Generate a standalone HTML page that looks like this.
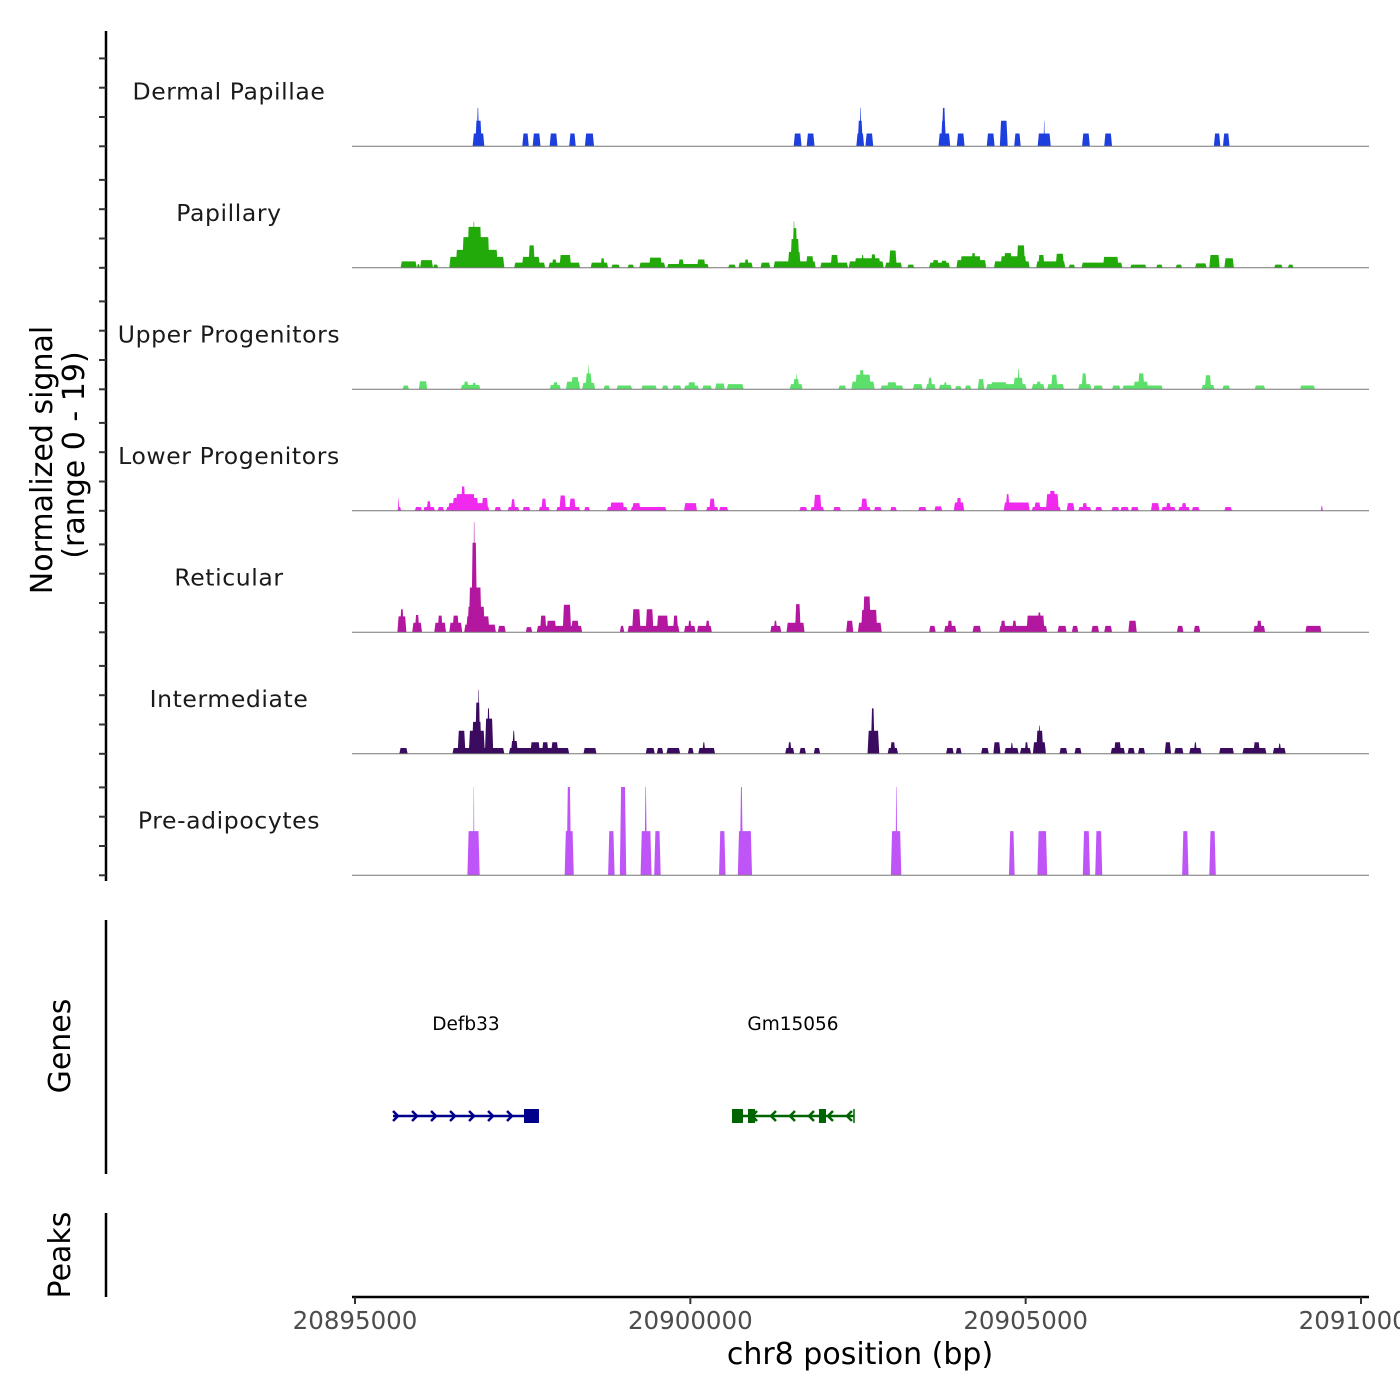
<!DOCTYPE html>
<html><head><meta charset="utf-8">
<style>
html,body{margin:0;padding:0;background:#fff;}
svg{display:block;font-family:"DejaVu Sans","Liberation Sans",sans-serif;}
</style></head>
<body>
<svg id="chart" width="1400" height="1400" viewBox="0 0 1400 1400" xmlns="http://www.w3.org/2000/svg">
<rect x="0" y="0" width="1400" height="1400" fill="#fff"/>
<g id="tracks"></g>
<g id="yaxis"></g>
<g id="genes"></g>
<g id="xaxis"></g>
<text x="0" y="0" transform="translate(52,460) rotate(-90)" text-anchor="middle" font-size="30" fill="#000">Normalized signal</text>
<text x="0" y="0" transform="translate(84,455) rotate(-90)" text-anchor="middle" font-size="30" fill="#000">(range 0 - 19)</text>
<text x="0" y="0" transform="translate(70,1046) rotate(-90)" text-anchor="middle" font-size="30" fill="#000">Genes</text>
<text x="0" y="0" transform="translate(70,1255) rotate(-90)" text-anchor="middle" font-size="30" fill="#000">Peaks</text>
<text x="860" y="1364" text-anchor="middle" font-size="30" fill="#000">chr8 position (bp)</text>
</svg>
<script>
const regionStart = 20895000;
const trackNames = ["Dermal Papillae","Papillary","Upper Progenitors","Lower Progenitors","Reticular","Intermediate","Pre-adipocytes"];
const xTickValues = [20895000, 20900000, 20905000, 20910000];
const xTickLabels = ["20895000", "20900000", "20905000", "20910000"];
// segments: [startOffsetBp, endOffsetBp, signal] relative to regionStart
const dermalPapillae = [[1754,1929,2],[1793,1890,4],[1813,1852,6],[2494,2591,2],[2649,2766,2],[2902,3019,2],[3194,3291,2],[3428,3564,2],[6541,6658,2],[6735,6852,2],[7475,7591,2],[7494,7572,4],[7523,7552,6],[7611,7727,2],[8700,8875,2],[8737,8813,4],[8749,8807,6],[8973,9089,2],[9420,9537,2],[9615,9732,4],[9829,9926,2],[10179,10374,2],[10267,10286,4],[10841,10957,2],[11171,11288,2],[12806,12903,2],[12942,13039,2]];
const papillary = [[680,921,1],[921,970,0.6],[970,1163,1.2],[1163,1241,0.5],[1406,2227,1.7],[1501,2130,2.8],[1599,2005,4.8],[1676,1888,6.4],[1754,1791,7.2],[2373,2836,0.8],[2488,2758,1.7],[2585,2682,3.5],[2885,3357,0.8],[2933,3011,1.3],[3048,3223,2],[3513,3774,0.8],[3659,3725,1.5],[3822,3949,0.5],[4064,4161,0.5],[4239,4626,0.8],[4383,4577,1.6],[4653,5274,0.6],[4819,4906,1.3],[5099,5225,1.3],[5564,5679,0.5],[5718,5930,0.8],[5805,5873,1.3],[6047,6192,0.8],[6241,6870,1],[6453,6646,2.5],[6492,6626,4.5],[6521,6597,6.2],[6531,6560,7.3],[6724,6840,1.8],[6936,7352,0.8],[7091,7208,2],[7362,7883,1],[7449,7836,1.5],[7545,7593,2],[7691,7768,2.1],[7903,8156,0.8],[7961,8078,2.7],[8234,8339,0.5],[8560,8870,0.8],[8609,8706,1.2],[8735,8831,1.1],[8967,9412,1.2],[9025,9335,1.8],[9189,9257,2.3],[9527,10060,1],[9624,10012,1.8],[9673,9798,2.3],[9866,9992,3.5],[10156,10591,1],[10185,10282,2],[10446,10572,2.2],[10640,10737,0.5],[10833,11442,0.8],[11152,11386,1.7],[11559,11800,0.5],[11946,12043,0.5],[12236,12333,0.5],[12526,12699,0.7],[12738,12893,2],[12962,13105,1.5],[13705,13831,0.5],[13909,13995,0.5]];
const upperProgenitors = [[709,805,0.6],[951,1077,1.25],[1579,1869,0.7],[1618,1696,1.2],[1743,1811,1],[2904,3068,0.7],[2953,3029,1.1],[3145,3357,1.2],[3223,3340,1.9],[3387,3581,1],[3435,3533,2.5],[3465,3494,3.7],[3706,3803,0.6],[3900,4132,0.6],[4268,4500,0.6],[4577,4673,0.6],[4731,4867,0.6],[4906,5128,0.6],[4963,5079,1.1],[5177,5321,0.6],[5369,5515,0.9],[5544,5795,0.8],[6482,6675,0.8],[6531,6626,1.6],[6570,6597,2.4],[7208,7323,0.6],[7401,7749,1.2],[7459,7691,2.3],[7517,7593,3],[7836,8175,0.6],[7932,8078,1.1],[8319,8465,0.8],[8512,8658,0.8],[8541,8609,1.8],[8706,8899,0.7],[8774,8831,1.1],[8947,9045,0.5],[9093,9189,0.6],[9286,9383,1.6],[9412,10012,0.8],[9479,9722,1.1],[9817,9963,1.8],[9876,9915,3.2],[10090,10282,0.8],[10156,10234,1.2],[10321,10572,0.8],[10379,10475,2.3],[10784,10979,0.8],[10833,10911,2.5],[11008,11152,0.6],[11288,11413,0.6],[11442,12043,0.6],[11607,11829,1.2],[11675,11771,2.5],[12623,12816,0.7],[12670,12767,2.2],[12933,13047,0.6],[13415,13571,0.6],[14092,14314,0.6]];
const lowerProgenitors = [[632,690,0.6],[641,661,2],[892,999,0.6],[1019,1192,0.6],[1067,1134,1.5],[1231,1328,0.6],[1357,2005,0.6],[1387,1937,1.2],[1453,1840,2],[1501,1791,2.6],[1579,1647,3.8],[1888,1986,2],[2081,2178,0.6],[2276,2449,0.6],[2324,2390,1.8],[2498,2614,0.6],[2739,2904,0.6],[2778,2855,1.9],[3001,3357,0.6],[3048,3145,2.4],[3194,3291,1.9],[3416,3503,0.6],[3754,4064,0.6],[3803,4015,1.3],[4112,4644,0.6],[4132,4258,1.2],[4906,5099,1.2],[5235,5418,0.6],[5282,5369,1.9],[5428,5564,0.6],[6626,6743,0.6],[6792,6994,0.6],[6840,6955,2.5],[7130,7245,0.6],[7498,7691,0.6],[7545,7642,1.9],[7739,7854,0.6],[7980,8078,0.6],[8397,8521,0.6],[8638,8755,0.7],[8928,9084,1.3],[8967,9045,2],[9673,10060,1.3],[9702,9761,2.6],[10090,10524,0.6],[10127,10224,1.3],[10302,10494,2.6],[10350,10446,3.1],[10611,10728,1.2],[10784,10979,0.6],[10843,10920,1.2],[11037,11142,0.6],[11279,11395,0.6],[11413,11539,0.6],[11568,11685,0.6],[11868,11994,1.2],[12024,12236,0.6],[12090,12168,1.2],[12275,12448,0.6],[12323,12401,1.2],[12477,12594,0.6],[12962,13076,0.6],[14401,14431,0.8]];
const reticular = [[632,766,2.5],[670,729,3.6],[853,999,1.5],[892,960,2.7],[1182,1357,1.5],[1231,1309,2.6],[1406,1599,1.5],[1453,1550,2.6],[1628,2101,1.2],[1657,2005,2.5],[1676,1937,4],[1696,1888,7],[1735,1820,14],[1762,1791,17.2],[2130,2247,1],[2546,2643,0.8],[2710,3387,1],[2758,2855,2.6],[2855,3001,1.8],[3097,3223,4.3],[3223,3340,1.8],[3949,4015,1],[4064,4838,1],[4132,4258,3.6],[4334,4451,3.6],[4500,4673,2.6],[4741,4819,2.6],[4906,5079,1],[4963,5021,1.8],[5099,5321,1],[5225,5292,1.8],[6192,6356,1],[6241,6297,1.8],[6434,6704,1.5],[6560,6646,4.4],[7323,7430,1.8],[7498,7854,1.5],[7545,7788,3.5],[7574,7691,5.6],[8560,8658,1],[8784,8967,1],[8831,8909,1.8],[9208,9335,1],[9605,10321,1],[9624,9702,1.8],[9798,9866,1.8],[10012,10282,2.6],[10175,10234,3.1],[10475,10611,1],[10689,10784,1],[10979,11094,1],[11171,11288,1],[11530,11656,1.8],[12255,12353,1],[12506,12603,1],[13395,13571,1],[13444,13522,1.8],[14170,14411,1]];
const intermediate = [[661,785,0.9],[1453,2227,0.9],[1530,1647,3.6],[1696,1937,3.6],[1743,1888,5],[1791,1869,8],[1830,1859,10],[1937,2062,5.5],[1966,2015,7.1],[2295,3194,0.9],[2324,2429,2],[2344,2390,3.6],[2614,2758,1.8],[2787,2885,1.8],[2924,3031,1.8],[3406,3601,0.9],[4334,4470,0.9],[4500,4597,0.9],[4644,4848,0.9],[4963,5050,0.9],[5118,5369,0.9],[5177,5225,1.8],[6414,6550,0.9],[6453,6511,1.8],[6626,6724,0.9],[6840,6936,0.9],[7642,7817,3.6],[7691,7749,7.1],[7942,8097,0.9],[7980,8058,1.8],[8813,8928,0.9],[8957,9045,0.9],[9335,9451,0.9],[9518,9624,1.8],[9683,9895,0.9],[9771,9817,1.7],[9915,10080,0.9],[9983,10041,1.8],[10107,10302,1.8],[10156,10263,3.6],[10185,10224,4.4],[10504,10621,0.9],[10728,10833,0.9],[11268,11481,0.9],[11317,11424,1.8],[11520,11627,0.9],[11675,11780,0.9],[12073,12168,1.8],[12216,12353,0.9],[12438,12623,0.9],[12506,12555,1.8],[12884,13105,0.9],[13232,13590,0.9],[13395,13493,1.8],[13685,13878,0.9],[13763,13812,1.6]];
const preAdipocytes = [[1676,1859,6.9],[1762,1781,13.8],[3126,3262,6.9],[3155,3223,13.8],[3774,3871,6.9],[3949,4044,13.8],[4258,4422,6.9],[4315,4354,13.8],[4461,4558,6.9],[5428,5525,6.9],[5708,5920,6.9],[5737,5786,13.8],[7990,8146,6.9],[8058,8087,13.8],[9751,9836,6.9],[10175,10321,6.9],[10852,10959,6.9],[11037,11142,6.9],[12333,12428,6.9],[12738,12835,6.9]];
const trackColors = ["#1c3fde","#22aa0b","#5ddf6b","#ef29ee","#b3179f","#3a0b5f","#bf55f7"];
const geneNames = ["Defb33","Gm15056"];
const geneStarts = [567, 5621];
const geneEnds = [2743, 7440];
const geneStrands = ["+","-"];
const geneExons = [[[2520,2743]], [[5621,5785],[5860,5964],[6918,7023]]];

const NS = "http://www.w3.org/2000/svg";
const svg = document.getElementById('chart');
const X0 = 355, X1 = 1361;
function xScale(bp){ return X0 + (bp - xTickValues[0]) / (xTickValues[3] - xTickValues[0]) * (X1 - X0); }
function xOff(off){ return xScale(regionStart + off); }
const trackH = 121.5, firstBase = 146.3, pxPerUnit = trackH / 19;
function yScale(t, v){ return firstBase + t * trackH - v * pxPerUnit; }
function el(tag, attrs, parent){ const e = document.createElementNS(NS, tag); for (const k in attrs) e.setAttribute(k, attrs[k]); parent.appendChild(e); return e; }

const tracksG = document.getElementById('tracks');
const allTracks = [dermalPapillae, papillary, upperProgenitors, lowerProgenitors, reticular, intermediate, preAdipocytes];
allTracks.forEach((segs, t) => {
  const g = el('g', {}, tracksG);
  
  
  const base = yScale(t, 0);
  segs.forEach(s => {
    const x0 = xOff(s[0]), x1 = xOff(s[1]), top = yScale(t, s[2]);
    const w = x1 - x0;
    const sl = Math.min(1.2, w / 2.5);
    const p = el('polygon', {points: `${x0},${base} ${x0+sl},${top} ${x1-sl},${top} ${x1},${base}`, fill: trackColors[t]}, g);
    
    
  });
  const bl = el('line', {x1: 352, x2: 1369, y1: base, y2: base, stroke: '#777', 'stroke-width': 1}, g);
  
  
  const lab = el('text', {x: 229, y: base - 47, 'text-anchor': 'middle', 'font-size': 23.5, fill: '#1a1a1a', 'letter-spacing': '0.6'}, g);
  lab.textContent = trackNames[t];
  
  
});

const ya = document.getElementById('yaxis');
el('line', {x1: 106, x2: 106, y1: 31, y2: 881, stroke: '#000', 'stroke-width': 2.5}, ya);
for (let t = 0; t < 7; t++) {
  for (let k = 0; k < 4; k++) {
    const y = yScale(t, 0) - k * 29.3;
    const tk = el('line', {x1: 99, x2: 106, y1: y, y2: y, stroke: '#333', 'stroke-width': 2}, ya);
    
    
  }
}
el('line', {x1: 106, x2: 106, y1: 920, y2: 1174, stroke: '#000', 'stroke-width': 2.5}, ya);
el('line', {x1: 106, x2: 106, y1: 1213, y2: 1297, stroke: '#000', 'stroke-width': 2.5}, ya);

const gg = document.getElementById('genes');
const geneColors = ["#00008b", "#006400"];
const gy = 1116;
geneNames.forEach((n, i) => {
  const g = el('g', {}, gg);
  
  
  const c = geneColors[i];
  const xs = xOff(geneStarts[i]), xe = xOff(geneEnds[i]);
  el('line', {x1: xs, x2: xe, y1: gy, y2: gy, stroke: c, 'stroke-width': 2.5}, g);
  const step = 19;
  if (geneStrands[i] === '+') {
    for (let x = xs + 4; x < xe - 10; x += step) el('polyline', {points: `${x-4},${gy-5} ${x+1},${gy} ${x-4},${gy+5}`, fill: 'none', stroke: c, 'stroke-width': 2.5}, g);
  } else {
    for (let x = xe - 6; x > xs + 20; x -= step) el('polyline', {points: `${x+4},${gy-5} ${x-1},${gy} ${x+4},${gy+5}`, fill: 'none', stroke: c, 'stroke-width': 2.5}, g);
    el('line', {x1: xe, x2: xe, y1: gy-7, y2: gy+7, stroke: c, 'stroke-width': 1.5}, g);
  }
  geneExons[i].forEach(ex => {
    const r = el('rect', {x: xOff(ex[0]), y: gy - 7, width: xOff(ex[1]) - xOff(ex[0]), height: 14, fill: c}, g);
    
    
  });
  const lab = el('text', {x: (xs + xe) / 2, y: 1030, 'text-anchor': 'middle', 'font-size': 18.5, fill: '#000'}, g);
  lab.textContent = n;
  
  
});

const xa = document.getElementById('xaxis');
el('line', {x1: 352, x2: 1369, y1: 1297, y2: 1297, stroke: '#000', 'stroke-width': 2.5}, xa);
xTickValues.forEach((v, i) => {
  const x = xScale(v);
  const tk = el('line', {x1: x, x2: x, y1: 1297, y2: 1304, stroke: '#333', 'stroke-width': 2}, xa);
  
  
  const tl = el('text', {x: x, y: 1329, 'text-anchor': 'middle', 'font-size': 24.5, fill: '#4d4d4d'}, xa);
  tl.textContent = xTickLabels[i];
  
  
});
</script>
</body></html>
